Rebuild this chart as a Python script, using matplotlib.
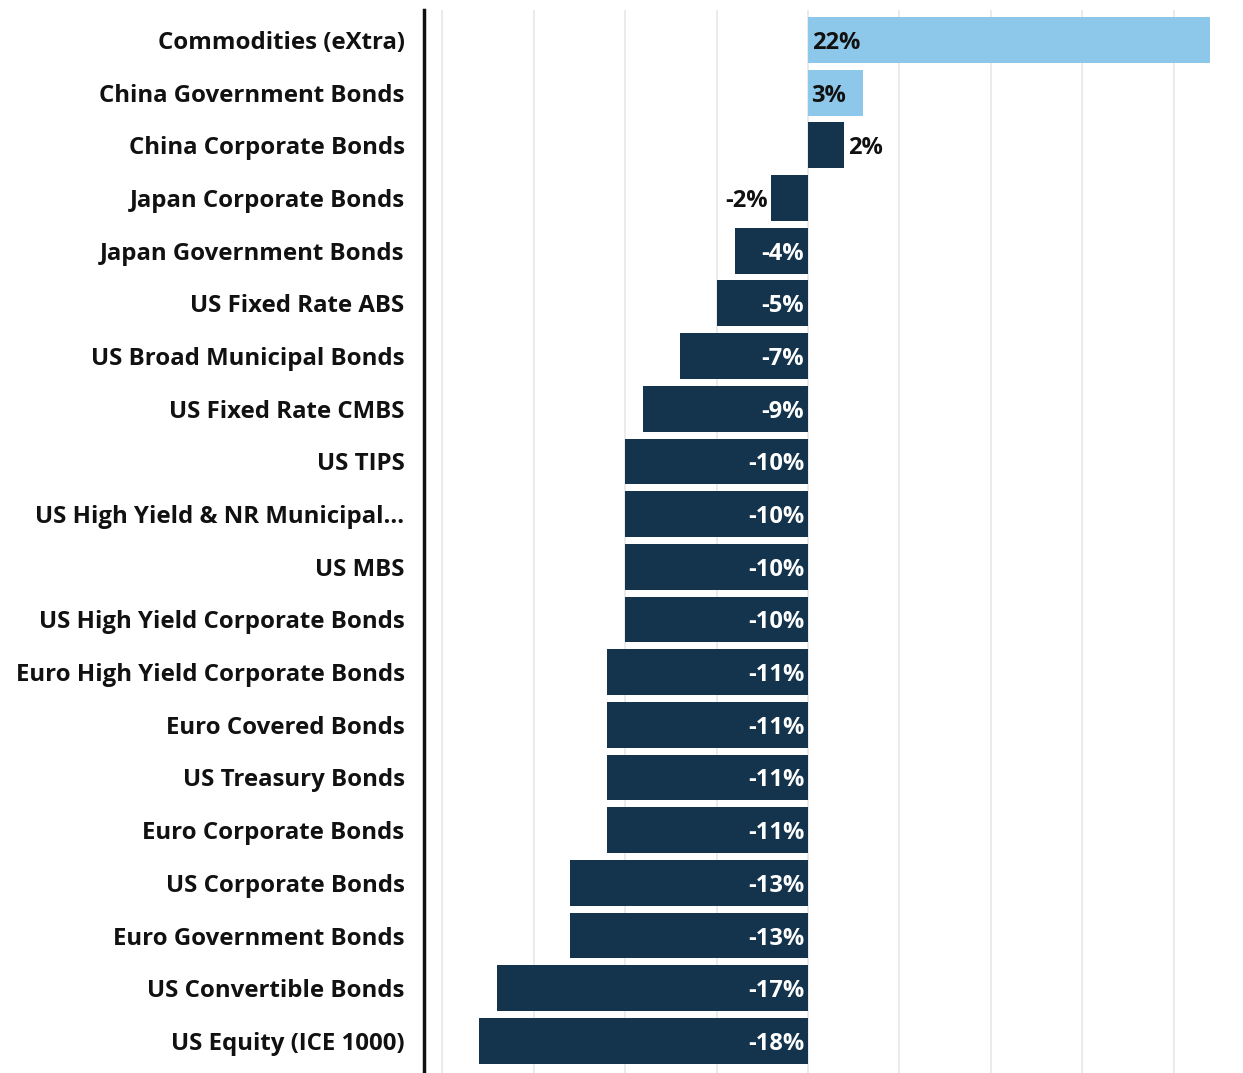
import matplotlib.pyplot as plt

plt.rcParams['font.family'] = ['Open Sans', 'DejaVu Sans']

categories = ['Commodities (eXtra)', 'China Government Bonds', 'China Corporate Bonds',
              'Japan Corporate Bonds', 'Japan Government Bonds', 'US Fixed Rate ABS',
              'US Broad Municipal Bonds', 'US Fixed Rate CMBS', 'US TIPS',
              'US High Yield & NR Municipal...', 'US MBS', 'US High Yield Corporate Bonds',
              'Euro High Yield Corporate Bonds', 'Euro Covered Bonds', 'US Treasury Bonds',
              'Euro Corporate Bonds', 'US Corporate Bonds', 'Euro Government Bonds',
              'US Convertible Bonds', 'US Equity (ICE 1000)']
values = [22, 3, 2, -2, -4, -5, -7, -9, -10, -10, -10, -10, -11, -11, -11, -11, -13, -13, -17, -18]
highlight = [True, True] + [False] * 18

light = '#8DC7E9'
navy = '#13344C'
fs = 17

W, H = 1243, 1073
fig = plt.figure(figsize=(W / 100, H / 100), dpi=100)
ax = fig.add_axes([424 / W, 0, (W - 424) / W, (H - 10) / H])

ypos = list(range(len(categories)))
colors = [light if h else navy for h in highlight]
ax.barh(ypos, values, height=0.87, color=colors, zorder=2)

for y, v, h in zip(ypos, values, highlight):
    label = '{}%'.format(v)
    if h:
        ax.text(0.2, y, label, ha='left', va='center_baseline', fontsize=fs, fontweight='bold',
                color='#111111', zorder=3)
    elif v > 0:
        ax.text(v + 0.2, y, label, ha='left', va='center_baseline', fontsize=fs, fontweight='bold',
                color='#111111', zorder=3)
    elif v > -3:
        ax.text(v - 0.2, y, label, ha='right', va='center_baseline', fontsize=fs, fontweight='bold',
                color='#111111', zorder=3)
    else:
        ax.text(-0.2, y, label, ha='right', va='center_baseline', fontsize=fs, fontweight='bold',
                color='white', zorder=3)

ax.set_xlim(-21, 23.8)
ax.set_ylim(19.61, -0.57)
ax.set_xticks([-20, -15, -10, -5, 0, 5, 10, 15, 20])
ax.xaxis.grid(True, color='#e8e8e8', linewidth=1.2, zorder=0)
ax.tick_params(axis='x', length=0, labelbottom=False)
ax.set_yticks(ypos)
ax.set_yticklabels(categories, fontsize=17.3, fontweight='bold', color='#111111')
ax.tick_params(axis='y', length=0, pad=14)

for side in ['top', 'right', 'bottom']:
    ax.spines[side].set_visible(False)
ax.spines['left'].set_linewidth(2.5)
ax.spines['left'].set_color('#111111')

fig.savefig('out.png', dpi=100)
